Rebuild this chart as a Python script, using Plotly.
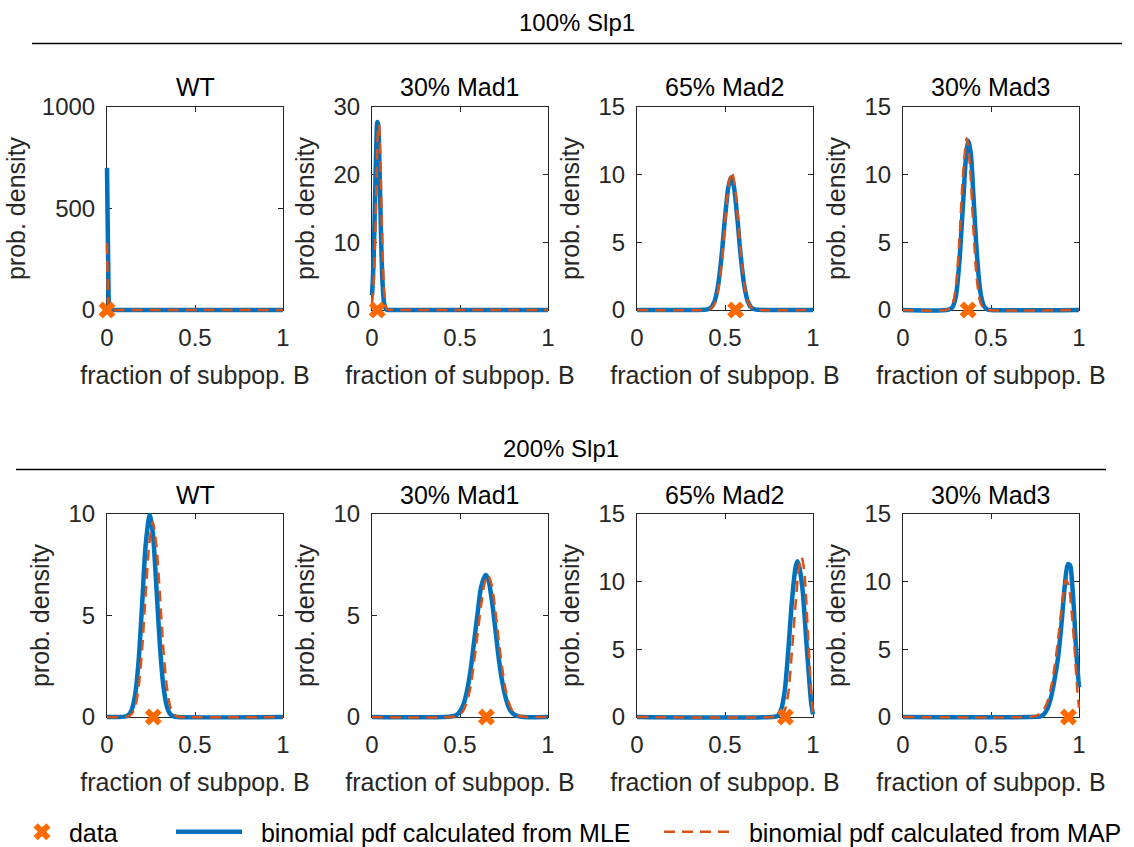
import plotly.graph_objects as go

W, H = 1134, 847

# ---- labels ---------------------------------------------------------------
group_titles = ["100% Slp1", "200% Slp1"]
panel_titles = ["WT", "30% Mad1", "65% Mad2", "30% Mad3"]
x_label = "fraction of subpop. B"
y_label = "prob. density"
x_ticks = [0, 0.5, 1]
x_tick_text = ["0", "0.5", "1"]
y_ticks_100 = [[0, 500, 1000], [0, 10, 20, 30], [0, 5, 10, 15], [0, 5, 10, 15]]
y_ticks_200 = [[0, 5, 10], [0, 5, 10], [0, 5, 10, 15], [0, 5, 10, 15]]
legend_names = ["data", "binomial pdf calculated from MLE", "binomial pdf calculated from MAP"]

# ---- 100% Slp1 ------------------------------------------------------------
wt100_mle_x = [0, 0.003, 0.006, 0.01, 1]
wt100_mle_y = [700, 120, 5, 0, 0]
wt100_map_x = [0, 0.003, 0.006, 0.01, 1]
wt100_map_y = [330, 150, 20, 0, 0]
wt100_data = [0.0]

mad1_100_mle_x = [0, 0.005, 0.01, 0.015, 0.02, 0.025, 0.03, 0.035, 0.04, 0.045, 0.05, 0.055, 0.06, 0.07, 0.08, 0.09, 0.1, 1]
mad1_100_mle_y = [2.2, 4.6, 8.4, 13.6, 19.6, 24.8, 27.8, 27.4, 24.0, 18.3, 12.5, 7.5, 4.0, 0.8, 0.1, 0, 0, 0]
mad1_100_map_x = [0, 0.01, 0.02, 0.03, 0.035, 0.04, 0.045, 0.05, 0.06, 0.07, 0.08, 0.09, 0.1, 0.11, 1]
mad1_100_map_y = [0.9, 4.3, 12.7, 23.6, 26.9, 27.4, 24.5, 19.5, 8.7, 2.4, 0.4, 0.05, 0, 0, 0]
mad1_100_data = [0.03]

mad2_100_mle_x = [0, 0.38, 0.40, 0.42, 0.44, 0.46, 0.48, 0.50, 0.52, 0.535, 0.55, 0.57, 0.59, 0.61, 0.63, 0.65, 0.67, 0.69, 1]
mad2_100_mle_y = [0, 0.01, 0.04, 0.17, 0.62, 1.77, 3.9, 6.8, 9.15, 9.8, 9.15, 6.8, 3.9, 1.77, 0.62, 0.17, 0.04, 0.01, 0]
mad2_100_map_x = [0, 0.40, 0.42, 0.44, 0.46, 0.48, 0.50, 0.52, 0.538, 0.555, 0.575, 0.595, 0.615, 0.635, 0.655, 0.675, 1]
mad2_100_map_y = [0, 0.02, 0.1, 0.44, 1.38, 3.36, 6.4, 9.2, 10.2, 9.3, 6.5, 3.5, 1.46, 0.46, 0.11, 0.02, 0]
mad2_100_data = [0.56]

mad3_100_mle_x = [0, 0.26, 0.28, 0.30, 0.32, 0.34, 0.36, 0.372, 0.385, 0.40, 0.42, 0.44, 0.46, 0.48, 0.50, 1]
mad3_100_mle_y = [0, 0.03, 0.19, 1.0, 3.5, 7.6, 11.6, 12.5, 11.6, 8.5, 4.1, 1.3, 0.29, 0.04, 0, 0]
mad3_100_map_x = [0, 0.26, 0.28, 0.30, 0.32, 0.34, 0.362, 0.38, 0.40, 0.42, 0.44, 0.46, 0.48, 1]
mad3_100_map_y = [0, 0.06, 0.38, 1.7, 5.1, 9.8, 12.7, 10.7, 6.0, 2.2, 0.55, 0.09, 0.01, 0]
mad3_100_data = [0.37]

# ---- 200% Slp1 ------------------------------------------------------------
wt200_mle_x = [0, 0.10, 0.12, 0.14, 0.16, 0.18, 0.20, 0.22, 0.243, 0.26, 0.28, 0.30, 0.32, 0.34, 0.36, 0.38, 0.40, 1]
wt200_mle_y = [0, 0.02, 0.08, 0.34, 1.1, 2.8, 5.6, 8.5, 9.95, 9.1, 6.5, 3.6, 1.55, 0.53, 0.14, 0.03, 0, 0]
wt200_map_x = [0, 0.12, 0.14, 0.16, 0.18, 0.20, 0.22, 0.24, 0.26, 0.28, 0.30, 0.32, 0.34, 0.36, 0.38, 0.40, 0.42, 1]
wt200_map_y = [0, 0.03, 0.15, 0.5, 1.5, 3.4, 6.1, 8.5, 9.6, 8.5, 6.1, 3.4, 1.5, 0.5, 0.15, 0.03, 0, 0]
wt200_data = [0.263]

mad1_200_mle_x = [0, 0.45, 0.48, 0.50, 0.52, 0.54, 0.56, 0.58, 0.60, 0.62, 0.645, 0.66, 0.68, 0.70, 0.72, 0.74, 0.76, 0.78, 0.80, 0.83, 0.86, 1]
mad1_200_mle_y = [0, 0.02, 0.1, 0.28, 0.62, 1.29, 2.3, 3.7, 5.1, 6.4, 7.0, 6.8, 5.8, 4.4, 2.9, 1.74, 0.93, 0.42, 0.17, 0.04, 0, 0]
mad1_200_map_x = [0, 0.47, 0.50, 0.52, 0.54, 0.56, 0.58, 0.60, 0.62, 0.64, 0.658, 0.68, 0.70, 0.72, 0.74, 0.76, 0.78, 0.80, 0.82, 0.85, 0.88, 1]
mad1_200_map_y = [0, 0.02, 0.13, 0.33, 0.77, 1.5, 2.7, 4.1, 5.5, 6.6, 7.0, 6.5, 5.3, 3.8, 2.4, 1.3, 0.65, 0.27, 0.1, 0.02, 0, 0]
mad1_200_data = [0.65]

mad2_200_mle_x = [0, 0.78, 0.80, 0.82, 0.84, 0.86, 0.88, 0.90, 0.91, 0.92, 0.94, 0.96, 0.98, 0.99, 1.0]
mad2_200_mle_y = [0, 0.02, 0.1, 0.6, 2.0, 5.0, 8.5, 11.0, 11.5, 11.2, 9.5, 6.0, 2.5, 1.0, 0.2]
mad2_200_map_x = [0, 0.80, 0.82, 0.84, 0.86, 0.88, 0.90, 0.92, 0.935, 0.95, 0.97, 0.99, 1.0]
mad2_200_map_y = [0, 0.02, 0.1, 0.5, 1.8, 4.8, 8.2, 11.0, 11.8, 10.8, 6.5, 1.8, 0.1]
mad2_200_data = [0.843]

mad3_200_mle_x = [0, 0.76, 0.78, 0.80, 0.82, 0.84, 0.86, 0.88, 0.90, 0.92, 0.937, 0.95, 0.96, 0.97, 0.98, 0.99, 1.0]
mad3_200_mle_y = [0, 0.01, 0.05, 0.2, 0.6, 1.4, 2.7, 4.3, 6.8, 9.8, 11.3, 11.2, 10.0, 8.2, 5.8, 3.8, 2.2]
mad3_200_map_x = [0, 0.72, 0.76, 0.78, 0.80, 0.82, 0.84, 0.86, 0.88, 0.90, 0.915, 0.925, 0.94, 0.96, 0.975, 0.99, 1.0]
mad3_200_map_y = [0, 0.01, 0.1, 0.25, 0.55, 1.1, 2.1, 3.6, 5.6, 7.9, 9.4, 10.1, 9.8, 7.5, 5.0, 2.0, 0.7]
mad3_200_data = [0.94]

panels = [
    (wt100_mle_x, wt100_mle_y, wt100_map_x, wt100_map_y, wt100_data),
    (mad1_100_mle_x, mad1_100_mle_y, mad1_100_map_x, mad1_100_map_y, mad1_100_data),
    (mad2_100_mle_x, mad2_100_mle_y, mad2_100_map_x, mad2_100_map_y, mad2_100_data),
    (mad3_100_mle_x, mad3_100_mle_y, mad3_100_map_x, mad3_100_map_y, mad3_100_data),
    (wt200_mle_x, wt200_mle_y, wt200_map_x, wt200_map_y, wt200_data),
    (mad1_200_mle_x, mad1_200_mle_y, mad1_200_map_x, mad1_200_map_y, mad1_200_data),
    (mad2_200_mle_x, mad2_200_mle_y, mad2_200_map_x, mad2_200_map_y, mad2_200_data),
    (mad3_200_mle_x, mad3_200_mle_y, mad3_200_map_x, mad3_200_map_y, mad3_200_data),
]
y_ticks = y_ticks_100 + y_ticks_200

# ---- styling --------------------------------------------------------------
FONT = "Liberation Sans, Arial, Helvetica, sans-serif"
AX = "#262626"
BLUE = "#0072BD"
ORANGE = "#D95319"
MARK = "#FF6A00"
NB = "\u00a0"
PAD = 5  # px of slack around each box so thick lines are not cut at the frame

col_px = [(107, 283), (372, 548), (637, 813), (903, 1079)]
row_px = [(107, 310), (514, 717)]


def px_x(v):
    return v / W


def px_y(v):
    return 1 - v / H


fig = go.Figure()
layout = dict(
    width=W, height=H,
    margin=dict(l=0, r=0, t=0, b=0, autoexpand=False),
    paper_bgcolor="white", plot_bgcolor="rgba(0,0,0,0)",
    font=dict(family=FONT, size=24, color=AX),
    annotations=[], shapes=[],
)

for k, (mx, my, ax_, ay_, dx) in enumerate(panels):
    r, c = divmod(k, 4)
    n = k + 1
    m = k + 9  # companion (hidden) axes that carry the curves
    xa, ya = ("x" if n == 1 else f"x{n}"), ("y" if n == 1 else f"y{n}")
    xc, yc = f"x{m}", f"y{m}"
    first = k == 0
    shape = "linear" if k == 0 else "spline"

    # empty trace so the framed box (ticks, labels) gets built
    fig.add_trace(go.Scatter(x=[], y=[], xaxis=xa, yaxis=ya, mode="lines",
                             showlegend=False, hoverinfo="skip"))

    fig.add_trace(go.Scatter(
        x=mx, y=my, xaxis=xc, yaxis=yc, mode="lines",
        line=dict(color=BLUE, width=4.5, shape=shape, smoothing=0.8),
        name=NB * 2 + legend_names[1], showlegend=first, legend="legend2",
    ))
    fig.add_trace(go.Scatter(
        x=ax_, y=ay_, xaxis=xc, yaxis=yc, mode="lines",
        line=dict(color=ORANGE, width=2.5, dash="11px,7px", shape=shape, smoothing=0.8),
        name=NB * 2 + legend_names[2], showlegend=first, legend="legend3",
    ))
    fig.add_trace(go.Scatter(
        x=dx, y=[0] * len(dx), xaxis=xc, yaxis=yc, mode="markers",
        marker=dict(symbol="x", size=15, color=MARK, line=dict(width=0)),
        cliponaxis=False,
        name=NB + legend_names[0], showlegend=first, legend="legend",
    ))

    x0, x1 = col_px[c]
    y0, y1 = row_px[r]
    yt = y_ticks[k]
    common = dict(
        showline=True, linecolor=AX, linewidth=1, mirror="ticks",
        ticks="inside", ticklen=5, tickwidth=1, tickcolor=AX,
        showgrid=False, zeroline=False, automargin=False, fixedrange=True,
        tickfont=dict(family=FONT, size=24, color=AX),
    )
    layout["xaxis" if n == 1 else f"xaxis{n}"] = dict(
        domain=[px_x(x0), px_x(x1)], anchor=ya, range=[0, 1],
        tickvals=x_ticks, ticktext=x_tick_text, ticklabelstandoff=6,
        title=dict(text=x_label, font=dict(family=FONT, size=25, color=AX), standoff=16),
        **common,
    )
    layout["yaxis" if n == 1 else f"yaxis{n}"] = dict(
        domain=[px_y(y1), px_y(y0)], anchor=xa, range=[yt[0], yt[-1]],
        tickvals=yt, ticktext=[str(v) for v in yt], ticklabelstandoff=6,
        title=dict(text=y_label, font=dict(family=FONT, size=25, color=AX),
                   standoff=9 if k == 0 else 11),
        **common,
    )

    # same data scale as the framed box, just widened by PAD pixels each side
    sx = 1.0 / (x1 - x0)
    sy = (yt[-1] - yt[0]) / (y1 - y0)
    layout[f"xaxis{m}"] = dict(
        domain=[px_x(x0 - PAD), px_x(x1 + PAD)], anchor=yc,
        range=[-PAD * sx, 1 + PAD * sx], visible=False,
        showgrid=False, zeroline=False, fixedrange=True,
    )
    layout[f"yaxis{m}"] = dict(
        domain=[px_y(y1 + PAD), px_y(y0 - PAD)], anchor=xc,
        range=[yt[0] - PAD * sy, yt[-1] + PAD * sy], visible=False,
        showgrid=False, zeroline=False, fixedrange=True,
    )

    layout["annotations"].append(dict(
        text=panel_titles[c], x=px_x((x0 + x1) / 2), y=px_y(87 if r == 0 else 495),
        xref="paper", yref="paper", xanchor="center", yanchor="middle",
        showarrow=False, font=dict(family=FONT, size=25, color="black"),
    ))

# group headings with rules underneath
for text, cx, ty, lx0, lx1, ly in [
    (group_titles[0], 577, 22, 32, 1122, 43.5),
    (group_titles[1], 561, 448, 16, 1106, 469.5),
]:
    layout["annotations"].append(dict(
        text=text, x=px_x(cx), y=px_y(ty), xref="paper", yref="paper",
        xanchor="center", yanchor="middle", showarrow=False,
        font=dict(family=FONT, size=24, color="black"),
    ))
    layout["shapes"].append(dict(
        type="line", xref="paper", yref="paper",
        x0=px_x(lx0), x1=px_x(lx1), y0=px_y(ly), y1=px_y(ly),
        line=dict(color="black", width=1.5),
    ))

legend_common = dict(
    orientation="h", yanchor="middle", xanchor="left",
    yref="container", xref="container", y=px_y(832),
    bgcolor="rgba(0,0,0,0)", borderwidth=0,
    font=dict(family=FONT, size=25, color="black"),
)
layout["legend"] = dict(x=px_x(22), itemwidth=30, **legend_common)
layout["legend2"] = dict(x=px_x(171), itemwidth=66, **legend_common)
layout["legend3"] = dict(x=px_x(659), itemwidth=66, **legend_common)

fig.update_layout(**layout)
fig.write_html("out.html")
